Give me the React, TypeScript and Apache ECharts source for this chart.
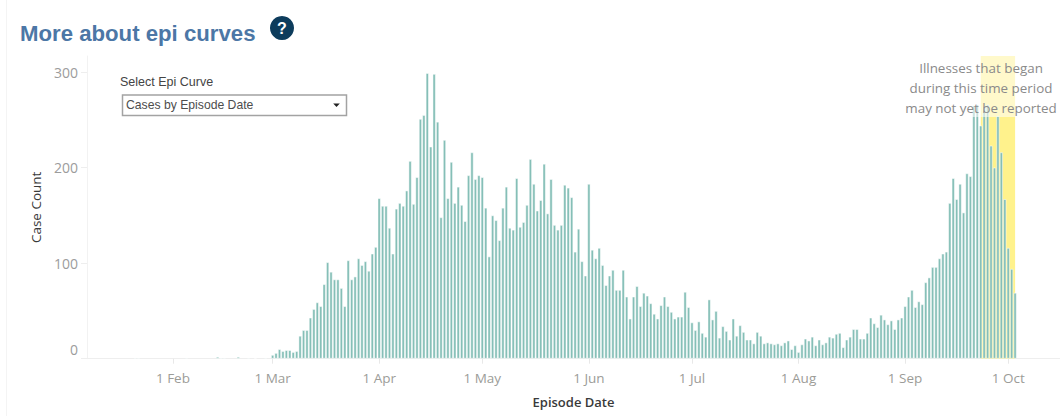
import React, { useEffect, useRef } from "react";
import * as echarts from "echarts";

const jan7to31 = [0,0,0,0,0,0,0,0,0,0,0,0,0,0,1,1,0,0,0,0,0,0,0,0,0];
const feb = [0,0,0,0,1,0,0,0,0,0,0,0,0,2,1,1,0,0,0,2,0,0,1,0,1,0,0,1,0];
const mar = [4,6,10,8,9,9,7,8,24,30,30,43,52,59,55,78,101,91,83,83,74,55,103,83,86,105,98,102,92,110,117];
const apr = [168,160,160,137,110,157,163,160,176,207,162,190,251,255,299,222,298,248,148,229,168,206,163,180,161,144,192,216,188,192];
const may = [190,158,107,150,145,124,158,180,137,135,189,138,143,161,209,183,155,166,204,152,188,140,135,140,182,179,169,112,136,102,87];
const jun = [183,114,105,116,98,77,87,93,72,72,93,65,42,65,76,55,69,66,58,47,42,56,65,55,49,42,44,44,70,54];
const jul = [38,30,39,27,23,62,41,50,22,34,29,20,42,24,35,28,20,20,16,28,24,16,17,16,15,16,14,17,19,10,14];
const aug = [7,15,21,19,23,14,20,15,17,23,22,26,27,12,20,23,31,31,21,21,27,43,37,33,46,41,36,40,31,41,43];
const sep = [55,65,72,54,60,57,80,85,96,96,105,110,112,163,189,167,183,153,194,191,265,266,244,264,266,223,200,254,216,167];
const oct = [116,94,69];

const caseCounts = [...jan7to31, ...feb, ...mar, ...apr, ...may, ...jun, ...jul, ...aug, ...sep, ...oct];
const monthNames = ["Jan","Feb","Mar","Apr","May","Jun","Jul","Aug","Sep","Oct"];
const monthTicks = [1,2,3,4,5,6,7,8,9].map((m) => new Date(2020, m, 1).getTime());
const yTicks = [0, 100, 200, 300];
const noteLines = ["Illnesses that began", "during this time period", "may not yet be reported"];

const DAY = 864e5;
const axisMin = new Date(2020, 0, 7).getTime();
const axisMax = axisMin + 283.06 * DAY;
const seriesData = caseCounts
  .map((v, i) => [new Date(2020, 0, 7 + i).getTime(), v])
  .filter((p) => p[1] > 0);
const FONT = "'Open Sans', sans-serif";

export default function App() {
  const ref = useRef<HTMLDivElement>(null);
  useEffect(() => {
    document.body.style.margin = "0";
    document.body.style.background = "#fff";
    const chart = echarts.init(ref.current!, undefined, { renderer: "svg" });
    chart.setOption({
      animation: false,
      backgroundColor: "#ffffff",
      grid: { left: 87, right: 0, top: 56, bottom: 416 - 358.7 },
      xAxis: {
        type: "value",
        min: axisMin,
        max: axisMax,
        name: "Episode Date",
        nameLocation: "middle",
        nameGap: 37,
        nameTextStyle: { color: "#3a3a3a", fontFamily: FONT, fontSize: 13, fontWeight: 600 },
        axisLine: { show: true, lineStyle: { color: "#eeeeee", width: 1 } },
        axisTick: { show: true, length: 5, lineStyle: { color: "#e8e8e8" }, customValues: monthTicks },
        splitLine: { show: false },
        axisLabel: {
          customValues: monthTicks,
          color: "#9c9c98",
          fontFamily: FONT,
          fontSize: 13.5,
          margin: 12,
          hideOverlap: false,
          formatter: (v: number) => {
            const d = new Date(v);
            return `${d.getDate()} ${monthNames[d.getMonth()]}`;
          },
        },
      },
      yAxis: {
        type: "value",
        min: 0,
        max: 302 / 0.9533,
        name: "Case Count",
        nameLocation: "middle",
        nameGap: 40,
        nameTextStyle: { color: "#3a3a3a", fontFamily: FONT, fontSize: 13.5 },
        axisLine: { show: true, lineStyle: { color: "#f2f2f2", width: 1 } },
        axisTick: { show: true, length: 6, lineStyle: { color: "#eeeeee" }, customValues: yTicks },
        splitLine: { show: false },
        axisLabel: {
          customValues: yTicks,
          color: "#9c9c9c",
          fontFamily: FONT,
          fontSize: 14,
          margin: 9,
          padding: [4, 0, 2, 0],
          verticalAlignMinLabel: "bottom",
        },
      },
      series: [
        {
          type: "line",
          data: [],
          z: 1,
          silent: true,
          markArea: {
            silent: true,
            itemStyle: { color: "#fff28c", opacity: 1 },
            data: [[
              { xAxis: new Date(2020, 8, 23).getTime(), yAxis: 0 },
              { xAxis: new Date(2020, 9, 3).getTime(), yAxis: 302 / 0.9533 },
            ]],
          },
        },
        {
          type: "bar",
          z: 2,
          data: seriesData,
          barWidth: 3.2,
          itemStyle: { color: "#85bfb7", borderColor: "rgba(255,255,255,0.65)", borderWidth: 0.8 },
        },
      ],
      graphic: [
        { type: "line", z: 1, shape: { x1: 6.5, y1: 0, x2: 6.5, y2: 416 }, style: { stroke: "#f4f4f4", lineWidth: 1 } },
        {
          type: "text", left: 20, top: 22, z: 10,
          style: { text: "More about epi curves", fill: "#4c77a6", font: "bold 22.2px 'Liberation Sans', Arial, sans-serif" },
        },
        { type: "circle", z: 10, shape: { cx: 282, cy: 28, r: 12 }, style: { fill: "#0d3c5c" } },
        {
          type: "text", z: 11, x: 282, y: 28,
          style: { text: "?", fill: "#ffffff", font: "bold 16px 'Liberation Sans', Arial, sans-serif", align: "center", verticalAlign: "middle" },
        },
        {
          type: "text", z: 10, x: 120, y: 82,
          style: { text: "Select Epi Curve", fill: "#444444", font: "12.5px 'Liberation Sans', Arial, sans-serif", align: "left", verticalAlign: "middle" },
        },
        { type: "rect", z: 10, shape: { x: 122.5, y: 95, width: 224, height: 20.5 }, style: { fill: "#ffffff", stroke: "#a3a3a3", lineWidth: 1.5 } },
        {
          type: "text", z: 11, x: 126, y: 105,
          style: { text: "Cases by Episode Date", fill: "#4d4d4d", font: "12.2px 'Liberation Sans', Arial, sans-serif", align: "left", verticalAlign: "middle" },
        },
        { type: "polygon", z: 11, shape: { points: [[333.2, 103.5], [339.8, 103.5], [336.5, 107]] }, style: { fill: "#222222" } },
        { type: "rect", z: 8, shape: { x: 905, y: 56, width: 152, height: 61 }, style: { fill: "rgba(255,255,255,0.55)" } },
        ...noteLines.map((t, i) => ({
          type: "text", z: 9, x: 981, y: 68 + i * 20,
          style: { text: t, fill: "#8a8a8a", font: "13.4px 'Open Sans', sans-serif", align: "center", verticalAlign: "middle" },
        })),
      ],
    });
    return () => chart.dispose();
  }, []);
  return <div ref={ref} style={{ width: 1060, height: 416 }} />;
}
